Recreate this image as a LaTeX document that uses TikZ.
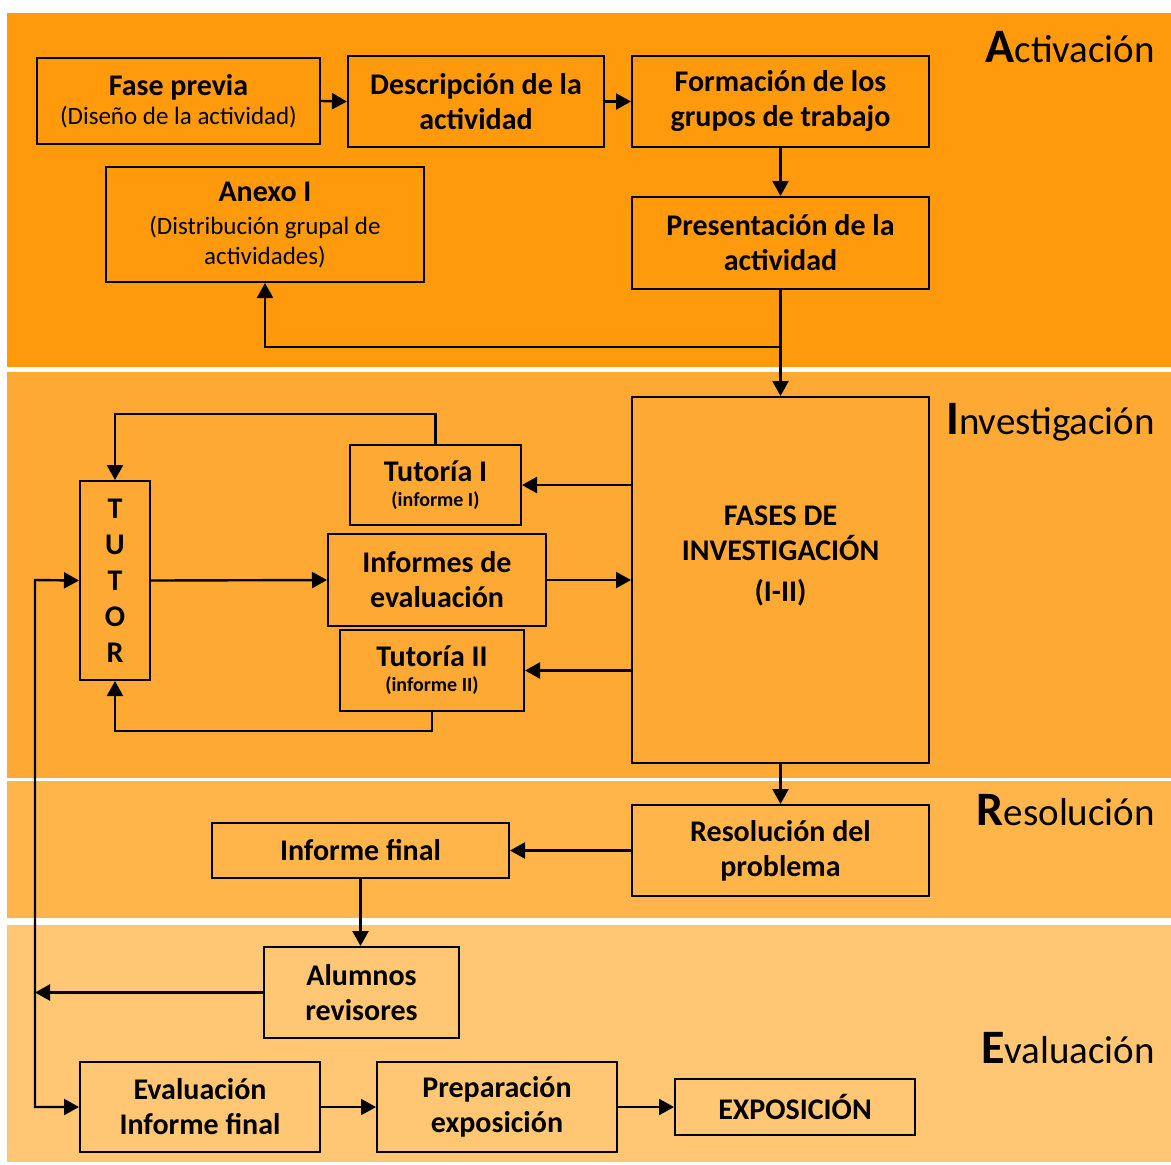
\documentclass[tikz,border=0pt]{standalone}
\usepackage{fontspec}
\setmainfont{Carlito}
\usetikzlibrary{calc,arrows.meta}
\definecolor{ActOrange}{HTML}{FF9A0D}
\definecolor{InvOrange}{HTML}{FFA935}
\definecolor{ResOrange}{HTML}{FFB54A}
\definecolor{EvaOrange}{HTML}{FFC773}
\newcommand{\subtxt}[1]{{\fontsize{12.5}{15}\selectfont\mdseries #1}}
\newcommand{\smalltxt}[1]{{\fontsize{10}{12}\selectfont #1}}
\newcommand{\phasetitle}[2]{{\fontsize{24}{26}\selectfont\bfseries #1}{\fontsize{19.5}{24}\selectfont #2}}

\begin{document}
\begin{tikzpicture}[x=0.5pt,y=-0.5pt,
    box/.style={
      draw=black,
      line width=1pt,
      align=center,
      inner sep=2pt,
      font=\fontsize{15}{17.5}\selectfont\bfseries
    },
    flow/.style={-{Triangle[length=7.5pt,width=8pt]},line width=1.2pt},
    flowboth/.style={{Triangle[length=7.5pt,width=8pt]}-{Triangle[length=7.5pt,width=8pt]},line width=1.2pt},
    phase/.style={anchor=base east}
  ]
    \useasboundingbox (0,0) rectangle (1171,1164);

    % bands
    \fill[ActOrange] (7,13) rectangle (1171,367);
    \fill[InvOrange] (7,372) rectangle (1171,778);
    \fill[ResOrange] (7,781) rectangle (1171,918);
    \fill[EvaOrange] (7,925) rectangle (1171,1162);

    \node[phase] (tact) at (1162,62) {\phasetitle{A}{ctivación}};
    \node[phase] (tinv) at (1162,434) {\phasetitle{I}{nvestigación}};
    \node[phase] (tres) at (1162,825) {\phasetitle{R}{esolución}};
    \node[phase] (teva) at (1162,1063) {\phasetitle{E}{valuación}};

    % Activacion
    \node[box, minimum width=141.5pt, minimum height=43pt] (fase) at (178.5,101)
      {Fase previa\\[-3pt]\subtxt{(Diseño de la actividad)}};
    \node[box, minimum width=128pt, minimum height=45.5pt] (desc) at (476,101.5)
      {Descripción de la\\actividad};
    \node[box, minimum width=148.5pt, minimum height=45.5pt] (form) at (780.5,101.5)
      {Formación de los\\grupos de trabajo};
    \node[box, minimum width=159pt, minimum height=57.5pt] (anexo) at (265,224.5)
      {Anexo I\\[-1pt]\subtxt{(Distribución grupal de}\\[-2.5pt]\subtxt{actividades)}};
    \node[box, minimum width=148.5pt, minimum height=46pt] (pres) at (780.5,243)
      {Presentación de la\\actividad};

    % Investigacion
    \node[box, minimum width=148.5pt, minimum height=183pt] (fases) at (780.5,580) {};
    \node[align=center, font=\fontsize{15}{17.5}\selectfont\bfseries] (fasestxt) at (780.5,556)
      {FASES DE\\INVESTIGACIÓN\\[3pt](I-II)};
    \node[box, minimum width=85.5pt, minimum height=40pt] (tut1) at (435.5,485)
      {Tutoría I\\[-5pt]\smalltxt{(informe I)}};
    \node[box, minimum width=109pt, minimum height=46pt] (infev) at (437,580)
      {Informes de\\evaluación};
    \node[box, minimum width=92pt, minimum height=40.5pt] (tut2) at (432,670.5)
      {Tutoría II\\[-5pt]\smalltxt{(informe II)}};
    \node[box, minimum width=35pt, minimum height=99.5pt,
      font=\fontsize{15}{18}\selectfont\bfseries] (tutor) at (115,580.5)
      {T\\U\\T\\O\\R};

    % Resolucion
    \node[box, minimum width=148.5pt, minimum height=45.5pt] (resol) at (780.5,850.5)
      {Resolución del\\problema};
    \node[box, minimum width=148.5pt, minimum height=27.5pt] (infin) at (360.5,850.5)
      {Informe final};

    % Evaluacion
    \node[box, minimum width=97.5pt, minimum height=45.5pt] (alum) at (361.5,992.5)
      {Alumnos\\revisores};
    \node[box, minimum width=120pt, minimum height=45pt] (evalinf) at (200,1107)
      {Evaluación\\Informe final};
    \node[box, minimum width=120pt, minimum height=45pt] (prep) at (497,1107)
      {Preparación\\exposición};
    \node[box, minimum width=120pt, minimum height=28pt] (expo) at (795,1107)
      {EXPOSICIÓN};

    \coordinate (split) at (780.5,347);
    \coordinate (bus) at (35,580);

    \draw[flow] (fase.east) -- (desc.west);
    \draw[flow] (desc.east) -- (form.west);
    \draw[flow] (form.south) -- (pres.north);
    \draw[flow] (pres.south) -- (fases.north);
    \draw[flow] (split) -| (anexo.south);

    \draw[flow] (tut1.east -| fases.west) -- (tut1.east);
    \draw[flow] (tut2.east -| fases.west) -- (tut2.east);
    \draw[flow] (tutor.east) -- (infev.west);
    \draw[flow] (infev.east) -- (infev.east -| fases.west);
    \draw[flow] (tut1.north) -- ++(0,-30) -| (tutor.north);
    \draw[flow] (tut2.south) -- ++(0,19) -| (tutor.south);

    \draw[flow] (fases.south) -- (resol.north);
    \draw[flow] (resol.west) -- (infin.east);
    \draw[flow] (infin.south) -- (infin.south |- alum.north);
    \draw[flow] (alum.west) -- (alum.west -| bus);
    \draw[flowboth] (evalinf.west) -- (bus |- evalinf.west) -- (bus) -- (tutor.west);
    \draw[flow] (evalinf.east) -- (prep.west);
    \draw[flow] (prep.east) -- (expo.west);
  \end{tikzpicture}
\end{document}
